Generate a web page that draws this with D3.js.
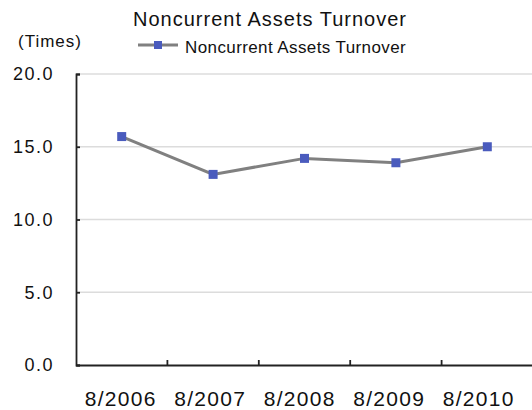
<!DOCTYPE html>
<html>
<head>
<meta charset="utf-8">
<script src="https://cdn.jsdelivr.net/npm/d3@7"></script>
<style>
  body { margin: 0; background: #fff; }
  text { font-family: "Liberation Sans", Arial, sans-serif; fill: #111; }
</style>
</head>
<body>
<div id="graph"></div>
<script>
const categories = ["8/2006", "8/2007", "8/2008", "8/2009", "8/2010"]
const turnover = [15.7, 13.1, 14.2, 13.9, 15.0]
const yTicks = [0, 5, 10, 15, 20]
const seriesName = "Noncurrent Assets Turnover"

const width = 532
const height = 410
const font = "Liberation Sans"

const svg = d3.select("#graph")
  .append("svg")
  .attr("width", width)
  .attr("height", height)

const x = d3.scaleBand().domain(categories).range([76, 533])
// labels sit on a slightly tighter spacing than the points
const xLabel = d3.scaleBand().domain(categories).range([76, 523.5])
const y = d3.scaleLinear().domain([0, 20]).range([365, 74])

// gridlines
svg.append("g")
  .selectAll("line")
  .data(yTicks.slice(1))
  .join("line")
    .attr("x1", 77).attr("x2", width)
    .attr("y1", d => y(d)).attr("y2", d => y(d))
    .attr("stroke", "#dcdcdc").attr("stroke-width", 1.5)

// y axis
const yAxis = svg.append("g")
  .attr("transform", "translate(76,0)")
  .call(d3.axisRight(y).tickValues(yTicks).tickSize(4).tickFormat(d3.format(".1f")))
yAxis.select(".domain").attr("stroke", "#222").attr("stroke-width", 1.8)
yAxis.selectAll(".tick line").attr("stroke", "#222").attr("stroke-width", 1.8)
yAxis.selectAll(".tick text")
  .attr("x", -22).attr("text-anchor", "end")
  .style("font-size", "18px").style("font-family", font)
  .style("letter-spacing", "1.5px")
  .attr("fill", "#111")

// x axis line
const xAxis = svg.append("g")
  .attr("transform", "translate(0,365)")
  .call(d3.axisBottom(x).tickSize(0).tickFormat(""))
xAxis.select(".domain").attr("stroke", "#222").attr("stroke-width", 1.8)

// x labels
const xLab = svg.append("g")
  .attr("transform", "translate(0,365)")
  .call(d3.axisBottom(xLabel).tickSize(0).tickPadding(26))
xLab.select(".domain").remove()
xLab.selectAll(".tick text")
  .style("font-size", "21px").style("font-family", font)
  .style("letter-spacing", "1.3px")
  .attr("fill", "#111")

// tick marks between categories
svg.append("g")
  .selectAll("line")
  .data(categories.slice(1))
  .join("line")
    .attr("x1", d => x(d)).attr("x2", d => x(d))
    .attr("y1", 365).attr("y2", 360)
    .attr("stroke", "#222").attr("stroke-width", 1.8)

// series line
svg.append("path")
  .datum(turnover)
  .attr("fill", "none")
  .attr("stroke", "#808080")
  .attr("stroke-width", 3)
  .attr("d", d3.line()
    .x((d, i) => x(categories[i]) + x.bandwidth() / 2)
    .y(d => y(d)))

svg.append("g")
  .selectAll("rect")
  .data(turnover)
  .join("rect")
    .attr("x", (d, i) => x(categories[i]) + x.bandwidth() / 2 - 4.5)
    .attr("y", d => y(d) - 4.5)
    .attr("width", 9).attr("height", 9)
    .attr("fill", "#4a5bbd")

// title
svg.append("text")
  .attr("x", 270).attr("y", 26)
  .attr("text-anchor", "middle")
  .style("font-size", "20px")
  .style("letter-spacing", "1px")
  .text(seriesName)

svg.append("text")
  .attr("x", 18).attr("y", 47)
  .style("font-size", "17px")
  .style("letter-spacing", "1px")
  .text("(Times)")

// legend
const legend = svg.append("g")
legend.append("line")
  .attr("x1", 138).attr("x2", 178).attr("y1", 45).attr("y2", 45)
  .attr("stroke", "#808080").attr("stroke-width", 3)
legend.append("rect")
  .attr("x", 154).attr("y", 41).attr("width", 8).attr("height", 8)
  .attr("fill", "#4a5bbd")
legend.append("text")
  .attr("x", 185).attr("y", 53)
  .style("font-size", "17px")
  .style("letter-spacing", "0.4px")
  .text(seriesName)
</script>
</body>
</html>
